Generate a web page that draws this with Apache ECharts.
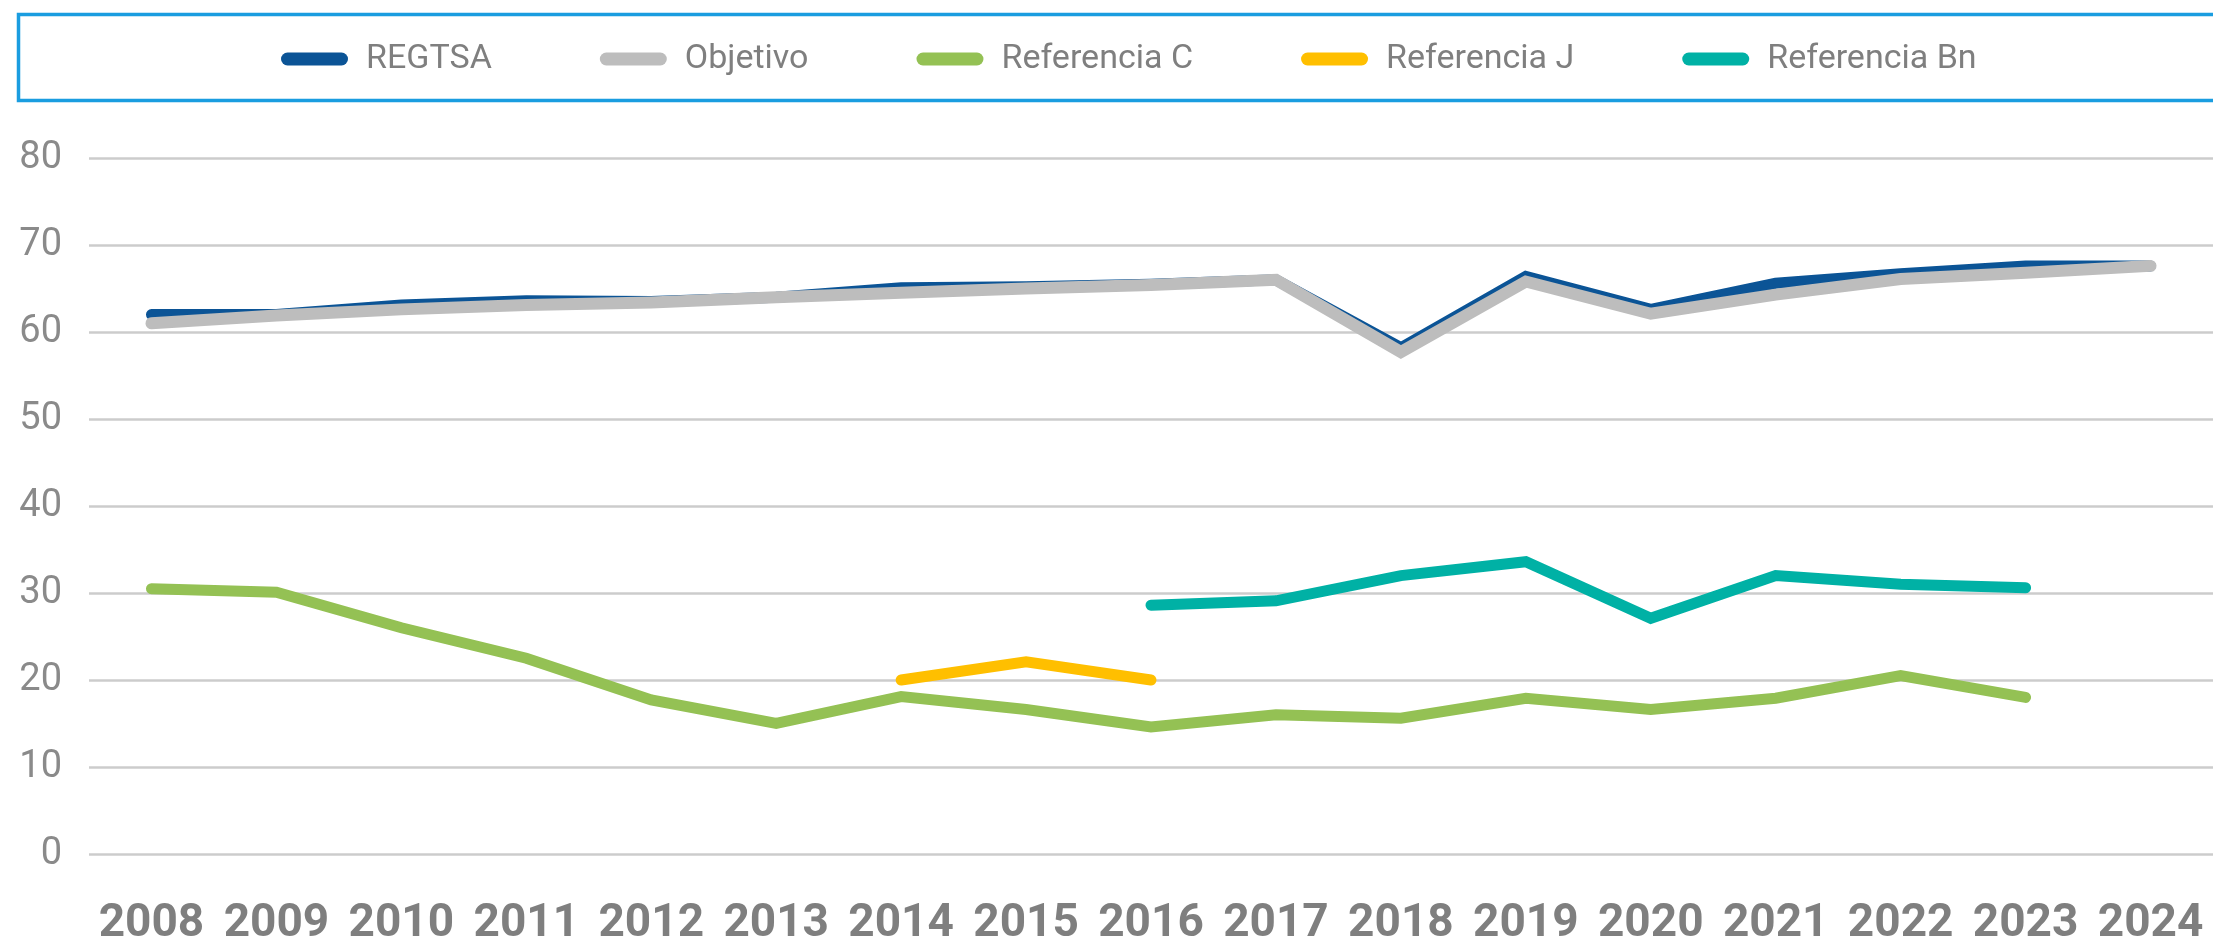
<!DOCTYPE html>
<html lang="es">

<head>
    <meta charset="UTF-8">
    <script src="https://cdn.jsdelivr.net/npm/echarts@6/dist/echarts.min.js"></script>
    <title>REGTSA</title>
    <style>
        html, body { margin: 0; padding: 0; background: #fff; }
        #main { width: 2213px; height: 947px; }
    </style>
</head>

<body>
    <div id="main"></div>

    <script type="text/javascript">
        // años
        let years = ['2008', '2009', '2010', '2011', '2012', '2013', '2014', '2015', '2016',
            '2017', '2018', '2019', '2020', '2021', '2022', '2023', '2024'];

        // valores
        let regtsa = [62.0, 62.0, 63.1, 63.6, 63.5, 64.0, 65.1, 65.2, 65.5, 66.0, 58.2, 66.4, 62.6, 65.6, 66.7, 67.6, 67.6];
        let objetivo = [61.0, 61.9, 62.6, 63.1, 63.4, 64.0, 64.5, 65.0, 65.4, 66.0, 57.7, 65.8, 62.1, 64.3, 66.1, 66.8, 67.6];
        let refC = [30.5, 30.1, 26.0, 22.5, 17.7, 15.0, 18.1, 16.6, 14.6, 16.0, 15.6, 17.9, 16.6, 17.9, 20.5, 18.0, null];
        let refJ = [null, null, null, null, null, null, 20.0, 22.1, 20.0, null, null, null, null, null, null, null, null];
        let refBn = [null, null, null, null, null, null, null, null, 28.6, 29.1, 32.0, 33.6, 27.1, 32.0, 31.0, 30.6, null];

        let yTicks = { min: 0, max: 80, interval: 10 };

        let names = ['REGTSA', 'Objetivo', 'Referencia C', 'Referencia J', 'Referencia Bn'];
        let colors = ['#0b5496', '#bdbdbd', '#94c154', '#ffbf00', '#00b1a5'];
        let values = [regtsa, objetivo, refC, refJ, refBn];
        let widths = [11, 12, 11, 11, 11];

        let myChart = echarts.init(document.getElementById('main'));

        let series = names.map(function (name, i) {
            return {
                name: name,
                type: 'line',
                data: values[i],
                symbol: 'none',
                connectNulls: false,
                lineStyle: {
                    color: colors[i],
                    width: widths[i],
                    cap: 'round',
                    join: 'miter'
                },
                itemStyle: { color: colors[i] },
                emphasis: { disabled: true }
            };
        });

        let option = {
            animation: false,
            color: colors,
            textStyle: { fontFamily: 'Roboto' },
            // marco azul de la leyenda, se sale por la derecha
            graphic: [{
                type: 'rect',
                left: 16,
                top: 12,
                shape: { width: 2300, height: 86 },
                style: { fill: 'none', stroke: '#1a9de0', lineWidth: 3.5 },
                silent: true
            }],
            legend: {
                data: names,
                orient: 'horizontal',
                left: 281,
                top: 39,
                padding: 0,
                itemGap: 108,
                itemWidth: 67,
                itemHeight: 13,
                icon: 'path://M6.5,0 L60.5,0 A6.5,6.5 0 0 1 60.5,13 L6.5,13 A6.5,6.5 0 0 1 6.5,0 Z',
                textStyle: {
                    color: '#7f7f7f',
                    fontSize: 34,
                    lineHeight: 40,
                    padding: [0, 0, 0, 13],
                    fontFamily: 'Roboto'
                }
            },
            grid: {
                left: 89,
                top: 158,
                width: 2132,
                height: 700,
                containLabel: false
            },
            xAxis: {
                type: 'category',
                data: years,
                boundaryGap: true,
                axisLine: { show: false },
                axisTick: { show: false },
                axisLabel: {
                    color: '#7f7f7f',
                    fontSize: 46,
                    fontWeight: 'bold',
                    margin: 47,
                    interval: 0,
                    fontFamily: 'Roboto'
                }
            },
            yAxis: {
                type: 'value',
                min: yTicks.min,
                max: yTicks.max,
                interval: yTicks.interval,
                axisLine: { show: false },
                axisTick: { show: false },
                axisLabel: {
                    color: '#8a8a8a',
                    fontSize: 38,
                    margin: 27,
                    fontFamily: 'Roboto'
                },
                splitLine: {
                    lineStyle: { color: '#cccccc', width: 2.5 }
                }
            },
            series: series
        };

        myChart.setOption(option);
    </script>
</body>

</html>
